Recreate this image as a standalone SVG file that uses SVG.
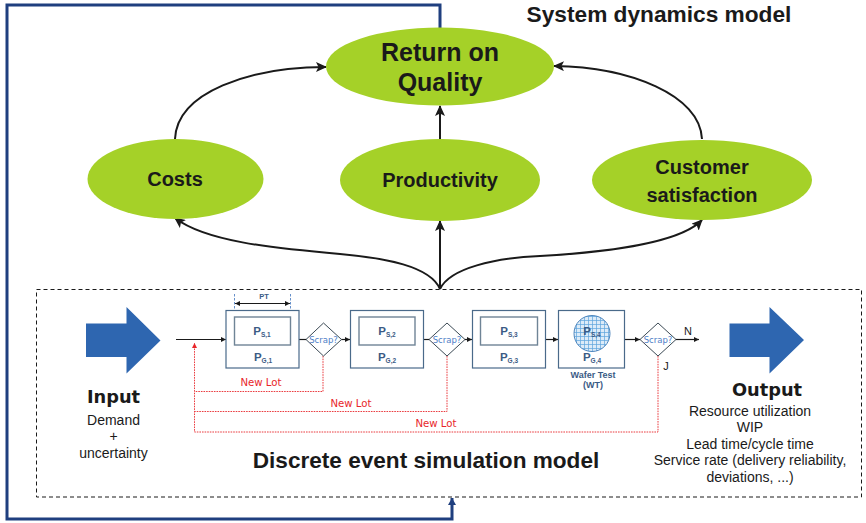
<svg xmlns="http://www.w3.org/2000/svg" width="866" height="523" viewBox="0 0 866 523">
<style>
text{font-family:"Liberation Sans",Arial,sans-serif;text-anchor:middle;fill:#1a1a1a}
.ell{fill:#a5d128}
.big{font-weight:700;font-size:20px}
.huge{font-weight:700;font-size:25px}
.title{font-weight:700;font-size:22.700px}
.box{fill:#fff;stroke:#4a6a8a;stroke-width:1.2}
.inner{fill:#fff;stroke:#6f8496;stroke-width:1.4}
.dia{fill:#fff;stroke:#3c4a55;stroke-width:1}
.p{font-weight:700;font-size:11.500px;fill:#3b5b85}
.p tspan{font-size:6.500px}
.sc{font-family:"DejaVu Sans",sans-serif;font-size:8.500px;fill:#4f81c7}
.red{fill:none;stroke:#e8262a;stroke-width:.9;stroke-dasharray:1.6 1}
.rt{font-family:"DejaVu Sans",sans-serif;font-size:10.200px;fill:#e8262a}
.bl{fill:none;stroke:#1a1a1a;stroke-width:1.2}
.cur{fill:none;stroke:#1a1a1a;stroke-width:2}
.nv{fill:none;stroke:#1f3f7f;stroke-width:3}
.o{font-size:14px}
.hd{font-family:"DejaVu Sans",sans-serif;font-weight:700;font-size:17.800px}
.wt{font-size:9px;font-weight:700;fill:#3b5b85}
.arrowfill{fill:#2e66b0}
</style>
<defs>
<marker id="ah" markerUnits="userSpaceOnUse" markerWidth="12" markerHeight="10" refX="10" refY="5" orient="auto"><path d="M0 0L11 5L0 10L2.5 5Z" fill="#1a1a1a"/></marker>
<marker id="as" markerUnits="userSpaceOnUse" markerWidth="6" markerHeight="6" refX="5" refY="3" orient="auto"><path d="M0 0.5L5 3L0 5.5Z" fill="#1a1a1a"/></marker>
<marker id="ar" markerUnits="userSpaceOnUse" markerWidth="6" markerHeight="6" refX="5" refY="3" orient="auto"><path d="M0 0.5L5 3L0 5.5Z" fill="#e8262a"/></marker>
<marker id="an" markerUnits="userSpaceOnUse" markerWidth="9" markerHeight="9" refX="7" refY="4" orient="auto"><path d="M0 0L7 4L0 8Z" fill="#1f3f7f"/></marker>
<pattern id="grid" width="4" height="4" patternUnits="userSpaceOnUse"><rect width="4" height="4" fill="#dcebf8"/><path d="M0 .5H4M.5 0V4" stroke="#5ea5dc" stroke-width=".7"/></pattern>
</defs>

<g id="connectors">
<path class="nv" d="M440 28V5H7V519H452V498" marker-end="url(#an)"/>
<rect x="36.500" y="289.500" width="825" height="207.500" fill="none" stroke="#1a1a1a" stroke-width="1" stroke-dasharray="4 3"/>
<path class="cur" d="M175 139C177 92 250 67 326 67" marker-end="url(#ah)"/>
<path class="cur" d="M440 139V106" marker-end="url(#ah)"/>
<path class="cur" d="M702 139C700 95 630 67 554 66" marker-end="url(#ah)"/>
<path class="cur" d="M440 289C430 266 385 258 340 254C270 248 205 241 175 218" marker-end="url(#ah)"/>
<path class="cur" d="M440 289V221" marker-end="url(#ah)"/>
<path class="cur" d="M440 289C450 268 495 258 540 256C610 252 680 243 702 220" marker-end="url(#ah)"/>
<path class="bl" d="M176 339.500H226" marker-end="url(#as)"/>
<path class="bl" d="M299 339.500H306"/>
<path class="bl" d="M341 339.500H350" marker-end="url(#as)"/>
<path class="bl" d="M423 339.500H429"/>
<path class="bl" d="M465 339.500H472" marker-end="url(#as)"/>
<path class="bl" d="M546 339.500H558" marker-end="url(#as)"/>
<path class="bl" d="M624 339.500H640" marker-end="url(#as)"/>
<path class="bl" d="M676 339.500H699" marker-end="url(#as)"/>
<path class="bl" d="M235 303.500H290" stroke-width="1.400" marker-end="url(#as)"/>
<path d="M235 303.500L240 301V306Z" fill="#1a1a1a"/>
<path d="M234.500 294V317M290.500 294V317" fill="none" stroke="#3f74bd" stroke-width=".8" stroke-dasharray="2.500 1.500"/>
<path class="red" d="M323 356V391.500H195"/>
<path class="red" d="M447 356V411.500H195"/>
<path class="red" d="M658 356V432H194.500V343" marker-end="url(#ar)"/>
</g>

<g id="return-on-quality"><ellipse class="ell" cx="440" cy="66.500" rx="114" ry="39"/><text class="huge" x="440" y="61">Return on</text><text class="huge" x="440" y="91">Quality</text></g>
<g id="costs"><ellipse class="ell" cx="175.500" cy="179" rx="88" ry="40"/><text class="big" x="175" y="186">Costs</text></g>
<g id="productivity"><ellipse class="ell" cx="440" cy="180" rx="100" ry="41"/><text class="big" x="440" y="187">Productivity</text></g>
<g id="customer-satisfaction"><ellipse class="ell" cx="702" cy="180" rx="110" ry="40"/><text class="big" x="702" y="174">Customer</text><text class="big" x="702" y="202">satisfaction</text></g>
<text class="title" x="659" y="22">System dynamics model</text>

<g id="input"><path class="arrowfill" d="M86 323.500H126.500V307L160.500 340.500L126.500 373.500V357H86Z"/><text class="hd" x="113.500" y="403">Input</text><text class="o" x="113.500" y="425">Demand</text><text class="o" x="113.500" y="441">+</text><text class="o" x="113.500" y="458">uncertainty</text></g>

<g id="p1"><rect class="box" x="226" y="310.500" width="73" height="57.500"/><rect class="inner" x="234.500" y="317" width="56" height="28"/><text class="p" x="262" y="335">P<tspan dy="2">S,1</tspan></text><text class="p" x="263" y="361">P<tspan dy="2">G,1</tspan></text><text x="264" y="299" style="font-size:7.500px;fill:#3b5b85;font-weight:700">PT</text></g>
<g id="d1"><path class="dia" d="M323.500 323L341.500 339.500L323.500 356L306 339.500Z"/><text class="sc" x="323.500" y="343">Scrap?</text></g>
<g id="p2"><rect class="box" x="350.500" y="310.500" width="73" height="57.500"/><rect class="inner" x="359" y="317" width="56" height="28"/><text class="p" x="387" y="335">P<tspan dy="2">S,2</tspan></text><text class="p" x="387" y="361">P<tspan dy="2">G,2</tspan></text></g>
<g id="d2"><path class="dia" d="M447 323L465 339.500L447 356L429 339.500Z"/><text class="sc" x="447" y="343">Scrap?</text></g>
<g id="p3"><rect class="box" x="472.500" y="310.500" width="73" height="57.500"/><rect class="inner" x="480.500" y="317" width="57" height="28"/><text class="p" x="509" y="335">P<tspan dy="2">S,3</tspan></text><text class="p" x="509" y="361">P<tspan dy="2">G,3</tspan></text></g>
<g id="p4"><rect class="box" x="558.500" y="310.500" width="66" height="57.500"/><circle cx="592" cy="333.500" r="18" fill="url(#grid)" stroke="#4f86bd" stroke-width="1"/><text class="p" x="592" y="335">P<tspan dy="2">S,4</tspan></text><text class="p" x="592" y="361">P<tspan dy="2">G,4</tspan></text><text class="wt" x="593" y="378">Wafer Test</text><text class="wt" x="593" y="388">(WT)</text></g>
<g id="d4"><path class="dia" d="M658 323L676 339.500L658 356L640 339.500Z"/><text class="sc" x="658" y="343">Scrap?</text></g>
<text x="688" y="335" style="font-size:11px">N</text>
<text x="666" y="370" style="font-size:11px">J</text>
<text class="rt" x="261" y="386">New Lot</text>
<text class="rt" x="351" y="407">New Lot</text>
<text class="rt" x="436" y="427">New Lot</text>
<text x="426" y="468" style="font-weight:700;font-size:22.600px">Discrete event simulation model</text>

<g id="output"><path class="arrowfill" d="M729.500 323.500H769.500V307L804 340L769.500 373.500V357H729.500Z"/><text class="hd" x="767" y="396">Output</text><text class="o" x="750" y="416">Resource utilization</text><text class="o" x="750" y="432">WIP</text><text class="o" x="750" y="449">Lead time/cycle time</text><text class="o" x="750" y="465">Service rate (delivery reliability,</text><text class="o" x="750" y="482">deviations, ...)</text></g>
</svg>
